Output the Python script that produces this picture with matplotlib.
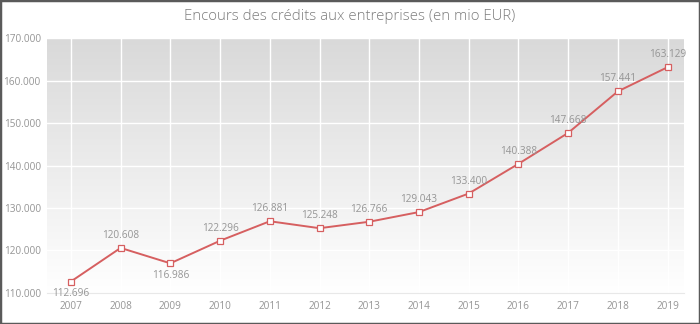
import numpy as np
import matplotlib.pyplot as plt
from matplotlib.patches import Rectangle
from matplotlib.colors import LinearSegmentedColormap

years = [2007, 2008, 2009, 2010, 2011, 2012, 2013, 2014, 2015, 2016, 2017, 2018, 2019]
encours = [112696, 120608, 116986, 122296, 126881, 125248, 126766,
           129043, 133400, 140388, 147668, 157441, 163129]
yticks = [110000, 120000, 130000, 140000, 150000, 160000, 170000]
below = [2007, 2009]

plt.rcParams['font.family'] = ['Open Sans', 'DejaVu Sans']

fig = plt.figure(figsize=(7, 3.24), dpi=100)
ax = fig.add_axes([47 / 700, 31 / 324, 637 / 700, 255 / 324])

# fond en degrade gris -> blanc
grad = np.linspace(0, 1, 256).reshape(-1, 1)
cmap = LinearSegmentedColormap.from_list('g', ['#d9d9d9', '#ececec', '#ffffff'])
ax.imshow(grad, cmap=cmap, aspect='auto',
          extent=[2006.52, 2019.33, 110000, 170000], origin='upper', zorder=0)

ax.set_xlim(2006.52, 2019.33)
ax.set_ylim(110000, 170000)

rouge = '#d65f60'
ax.plot(years, encours, color=rouge, lw=1.4, zorder=3,
        marker='s', ms=4, mfc='white', mec=rouge, mew=0.9)

for x, v in zip(years, encours):
    lab = f"{v / 1000:.3f}"
    if x in below:
        ax.annotate(lab, (x, v), xytext=(0, -5), textcoords='offset points',
                    ha='center', va='top', fontsize=7.2, color='#959595', zorder=4)
    else:
        ax.annotate(lab, (x, v), xytext=(0, 5), textcoords='offset points',
                    ha='center', va='bottom', fontsize=7.2, color='#959595', zorder=4)

ax.set_xticks(years)
ax.set_xticklabels([str(y) for y in years])
ax.set_yticks(yticks)
ax.set_yticklabels([f"{t // 1000}.000" for t in yticks])
ax.tick_params(length=0, labelsize=7.2, labelcolor='#959595')
ax.tick_params(axis='y', pad=4.5)
ax.tick_params(axis='x', pad=6)
ax.grid(True, color='white', lw=1, zorder=1)
ax.set_axisbelow(True)
for s in ['top', 'right', 'left']:
    ax.spines[s].set_visible(False)
ax.spines['bottom'].set_color('#e8e8e8')

fig.text(0.5, 1 - 17 / 324, "Encours des crédits aux entreprises (en mio EUR)",
         ha='center', va='center', fontsize=10.8, color='#7d7d7d', fontweight='light')

fig.patches.append(Rectangle((0, 0), 1, 1, transform=fig.transFigure, fill=False,
                             edgecolor='#5a5a5a', lw=2.5))

fig.savefig('out.png', dpi=100)
